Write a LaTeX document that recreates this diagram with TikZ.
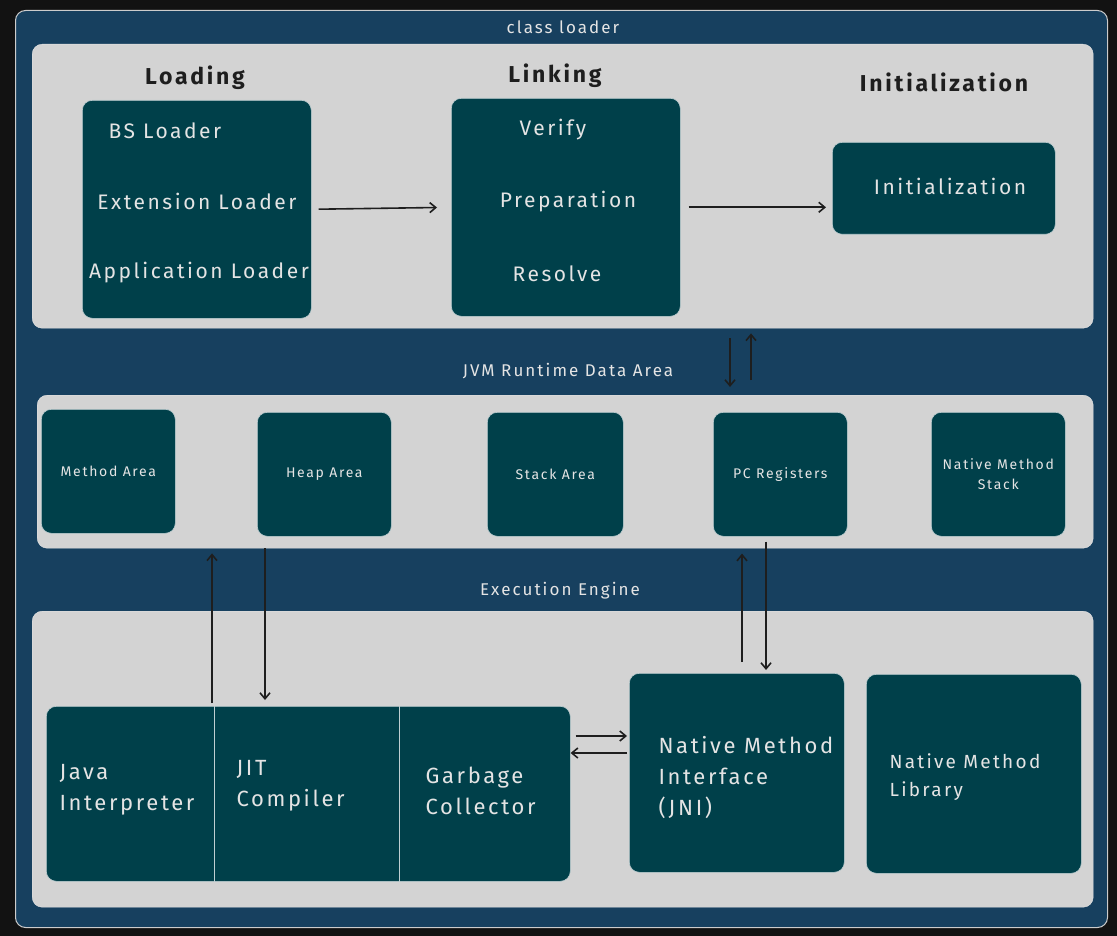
\documentclass[tikz,border=0pt]{standalone}
\usepackage{fontspec}
\setmainfont[LetterSpace=12]{Fira Sans}
\usetikzlibrary{arrows.meta,positioning,calc}
\definecolor{bgdark}{HTML}{121212}
\definecolor{frameblue}{HTML}{17405F}
\definecolor{panelgray}{HTML}{D3D3D3}
\definecolor{boxteal}{HTML}{00404A}
\definecolor{boxtext}{HTML}{E4E4E4}
\definecolor{inkblk}{HTML}{1E1E1E}
\tikzset{
  framebox/.style={draw=white!80!black,fill=frameblue,rounded corners=10pt,anchor=north west,inner sep=0pt,line width=1pt},
  panel/.style={draw=white!90!black,fill=panelgray,rounded corners=10pt,anchor=north west,inner sep=0pt},
  blk/.style={draw=white!75!boxteal,fill=boxteal,rounded corners=10pt,anchor=north west,inner sep=0pt,line width=0.6pt},
  head/.style={text=inkblk,font=\fontsize{23}{27}\selectfont\bfseries},
  sect/.style={text=boxtext,font=\fontsize{17}{20}\selectfont},
  btxt/.style={text=boxtext,font=\fontsize{21}{25}\selectfont},
  stxt/.style={text=boxtext,font=\fontsize{14}{20}\selectfont,align=center},
  ltxt/.style={text=boxtext,font=\fontsize{22}{31}\selectfont,align=left,anchor=west},
  divider/.style={draw=white!75!boxteal,line width=1pt},
  arr/.style={-{Straight Barb[length=6pt,width=10pt]},draw=inkblk,line width=1.6pt}
}
\begin{document}
\begin{tikzpicture}[x=1pt,y=-1pt]
  \fill[bgdark] (0,0) rectangle (1117,936);
  \useasboundingbox (0,0) rectangle (1117,936);

  \node[framebox,minimum width=1092pt,minimum height=917pt] (frame) at (15,10) {};
  \node[sect] (cltitle) at (563,27) {class loader};

  % class loader panel
  \node[panel,minimum width=1061pt,minimum height=284pt] (toppanel) at (32,44) {};
  \node[head] (loadhd) at (195,78) {Loading};
  \node[head] (linkhd) at (555,76) {Linking};
  \node[head] (inithd) at (944,82) {Initialization};

  \node[blk,minimum width=229pt,minimum height=218pt] (load) at (82,100) {};
  \node[btxt] (bsl) at (165,131) {BS Loader};
  \node[btxt] (extl) at (197,201) {Extension Loader};
  \node[btxt] (appl) at (199,273) {Application Loader};

  \node[blk,minimum width=229pt,minimum height=218pt] (link) at (451,98) {};
  \node[btxt] (verify) at (553,130) {Verify};
  \node[btxt] (prep) at (568,202) {Preparation};
  \node[btxt] (resolve) at (557,274) {Resolve};

  \node[blk,minimum width=223pt,minimum height=92pt] (init) at (832,142) {};
  \node[btxt] (inittx) at (950,186) {Initialization};

  \draw[arr,shorten <=7pt,shorten >=14pt] (load.east) -- (link.west);
  \draw[arr,shorten <=8pt,shorten >=6pt] (link.east) -- (init.west |- link.east);

  % runtime data area
  \node[sect] (rdtitle) at (568,371) {JVM Runtime Data Area};
  \node[panel,minimum width=1056pt,minimum height=153pt] (datapanel) at (37,395) {};
  \node[blk,minimum width=134pt,minimum height=124pt] (method) at (41,409) {};
  \node[blk,minimum width=134pt,minimum height=124pt] (heap) at (257,412) {};
  \node[blk,minimum width=136pt,minimum height=124pt] (stack) at (487,412) {};
  \node[blk,minimum width=134pt,minimum height=124pt] (pcreg) at (713,412) {};
  \node[blk,minimum width=134pt,minimum height=124pt] (nstack) at (931,412) {};
  \node[stxt] at (method.center) {Method Area};
  \node[stxt] at (heap.center) {Heap Area};
  \node[stxt] at (stack.center) {Stack Area};
  \node[stxt] at (pcreg.center) {PC Registers};
  \node[stxt] at (nstack.center) {Native Method\\Stack};

  \draw[arr,shorten <=10pt,shorten >=8pt] (toppanel.south -| 730,0) -- (datapanel.north -| 730,0);
  \draw[arr,shorten <=15pt,shorten >=5pt] (datapanel.north -| 751,0) -- (toppanel.south -| 751,0);

  % execution engine
  \node[sect] (eetitle) at (560,591) {Execution Engine};
  \node[panel,minimum width=1061pt,minimum height=296pt] (botpanel) at (32,611) {};
  \node[blk,minimum width=524pt,minimum height=175pt] (exec) at (46,706) {};
  \draw[divider] (exec.north -| 214,0) -- (exec.south -| 214,0);
  \draw[divider] (exec.north -| 399,0) -- (exec.south -| 399,0);
  \node[ltxt] (interp) at (56,790) {Java\\Interpreter};
  \node[ltxt] (jit) at (233,786) {JIT\\Compiler};
  \node[ltxt] (gc) at (422,791) {Garbage\\Collector};

  \node[blk,minimum width=215pt,minimum height=199pt] (jni) at (629,673) {};
  \node[ltxt] (jnitx) at (655,778) {Native Method\\Interface\\(JNI)};
  \node[blk,minimum width=215pt,minimum height=199pt] (natlib) at (866,674) {};
  \node[ltxt,font=\fontsize{19}{28}\selectfont] (natlibtx) at (886,777) {Native Method\\Library};

  \draw[arr,shorten <=3pt,shorten >=5pt] (exec.north -| 212,0) -- (datapanel.south -| 212,0);
  \draw[arr,shorten >=6pt] (datapanel.south -| 265,0) -- (exec.north -| 265,0);
  \draw[arr,shorten <=11pt,shorten >=17pt] (jni.north -| 742,0) -- (pcreg.south -| 742,0);
  \draw[arr,shorten <=5pt,shorten >=3pt] (pcreg.south -| 766,0) -- (jni.north -| 766,0);
  \draw[arr,shorten <=5pt,shorten >=2pt] (exec.east |- 0,736) -- (jni.west |- 0,736);
  \draw[arr,shorten <=2pt] (jni.west |- 0,753) -- (exec.east |- 0,753);
\end{tikzpicture}
\end{document}
